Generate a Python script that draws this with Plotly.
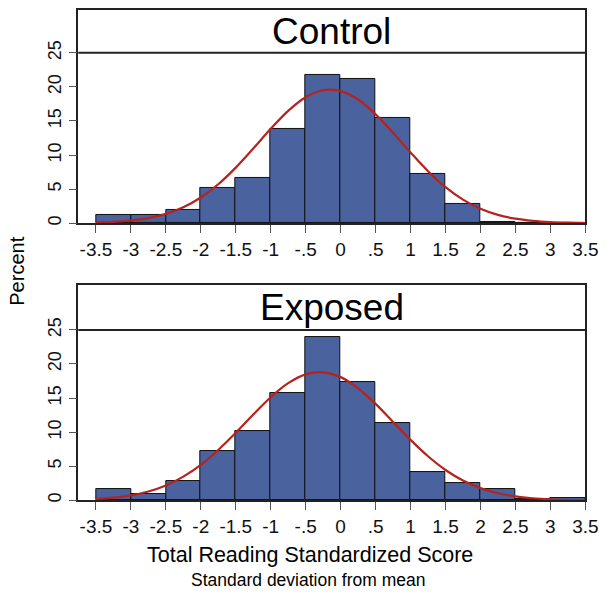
import plotly.graph_objects as go

# ---- data ----
bin_centers = [-3.25, -2.75, -2.25, -1.75, -1.25, -0.75, -0.25,
               0.25, 0.75, 1.25, 1.75, 2.25, 2.75, 3.25]
control_pct = [1.25, 1.25, 1.9, 5.2, 6.6, 13.8, 21.8,
               21.1, 15.5, 7.3, 2.85, 0.2, 0.1, 0.1]
exposed_pct = [1.65, 0.85, 2.85, 7.3, 10.2, 15.8, 23.9,
               17.4, 11.3, 4.1, 2.5, 1.65, 0.25, 0.4]

curve_x = [-3.5, -3.25, -3.0, -2.75, -2.5, -2.25, -2.0, -1.75, -1.5, -1.25,
           -1.0, -0.75, -0.5, -0.25, 0.0, 0.25, 0.5, 0.75, 1.0, 1.25,
           1.5, 1.75, 2.0, 2.25, 2.5, 2.75, 3.0, 3.25, 3.5]
control_curve = [0.09, 0.19, 0.40, 0.76, 1.38, 2.35, 3.78, 5.72, 8.16, 10.96,
                 13.85, 16.49, 18.48, 19.51, 19.39, 18.15, 16.0, 13.29, 10.39, 7.64,
                 5.29, 3.46, 2.12, 1.23, 0.67, 0.35, 0.17, 0.08, 0.03]
exposed_curve = [0.20, 0.39, 0.73, 1.30, 2.18, 3.47, 5.20, 7.38, 9.90, 12.58,
                 15.12, 17.18, 18.47, 18.78, 18.07, 16.43, 14.14, 11.50, 8.86, 6.46,
                 4.45, 2.90, 1.79, 1.04, 0.57, 0.30, 0.15, 0.07, 0.03]

x_tick_vals = [-3.5, -3, -2.5, -2, -1.5, -1, -0.5, 0, 0.5, 1, 1.5, 2, 2.5, 3, 3.5]
x_tick_text = ["-3.5", "-3", "-2.5", "-2", "-1.5", "-1", "-.5", "0", ".5",
               "1", "1.5", "2", "2.5", "3", "3.5"]
y_tick_vals = [0, 5, 10, 15, 20, 25]
panel_titles = ["Control", "Exposed"]

BAR_COLOR = "#4a629e"
CURVE_COLOR = "#b5231f"
FONT = "Liberation Sans, Arial, sans-serif"

W, H = 614, 594
fig = go.Figure()

panels = [
    (control_pct, control_curve, "x", "y"),
    (exposed_pct, exposed_curve, "x2", "y2"),
]
for pct, curve, xa, ya in panels:
    fig.add_trace(go.Bar(x=bin_centers, y=pct, width=0.5, xaxis=xa, yaxis=ya,
                         marker=dict(color=BAR_COLOR, line=dict(color="#111111", width=1)),
                         showlegend=False, hoverinfo="skip"))
    fig.add_trace(go.Scatter(x=curve_x, y=curve, mode="lines", xaxis=xa, yaxis=ya,
                             line=dict(color=CURVE_COLOR, width=2.2, shape="spline"),
                             showlegend=False, hoverinfo="skip"))

# pixel geometry
x_left, x_right = 80, 598
px_per_x = (598 - 98) / 7.0
x_range = [-3.5 - (98 - x_left) / px_per_x, 3.5]

def dom(top_px, bottom_px):
    return [1 - bottom_px / H, 1 - top_px / H]

top1, zero1 = 10, 224
top2, zero2 = 286, 502
ppu = (224 - 53) / 25.0
yr1 = [0, (zero1 - top1) / ppu]
yr2 = [0, (zero2 - top2) / ppu]

axis_common = dict(showline=True, linecolor="#222222", linewidth=1.5, mirror=True,
                   showgrid=False, zeroline=False, ticks="outside", ticklen=8,
                   tickcolor="#555555", tickwidth=1)
xfont = dict(family=FONT, size=19, color="#111111")
yfont = dict(family=FONT, size=18, color="#111111")

xdom = [x_left / W, x_right / W]
fig.update_layout(
    width=W, height=H, margin=dict(l=0, r=0, t=0, b=0),
    paper_bgcolor="white", plot_bgcolor="white", bargap=0,
    xaxis=dict(domain=xdom, range=x_range, tickvals=x_tick_vals, ticktext=x_tick_text,
               anchor="y", tickfont=xfont, **axis_common),
    yaxis=dict(domain=dom(top1, zero1), range=yr1, tickvals=y_tick_vals, tickangle=-90,
               anchor="x", tickfont=yfont, **axis_common),
    xaxis2=dict(domain=xdom, range=x_range, tickvals=x_tick_vals, ticktext=x_tick_text,
                anchor="y2", tickfont=xfont, **axis_common),
    yaxis2=dict(domain=dom(top2, zero2), range=yr2, tickvals=y_tick_vals, tickangle=-90,
                anchor="x2", tickfont=yfont, **axis_common),
)

# strip separator lines and titles
for (xa, ya, yr, title) in [("x", "y", yr1, panel_titles[0]), ("x2", "y2", yr2, panel_titles[1])]:
    fig.add_shape(type="line", xref=xa + " domain", yref=ya, x0=0, x1=1, y0=25, y1=25,
                  line=dict(color="#222222", width=2))
    fig.add_annotation(xref=xa + " domain", yref=ya, x=0.5, y=(25 + yr[1]) / 2,
                       text=title, showarrow=False,
                       font=dict(family=FONT, size=37, color="black"),
                       xanchor="center", yanchor="middle")

fig.add_annotation(xref="paper", yref="paper", x=17 / W, y=1 - 272 / H, text="Percent",
                   textangle=-90, showarrow=False, xanchor="center", yanchor="middle",
                   font=dict(family=FONT, size=20, color="black"))
fig.add_annotation(xref="paper", yref="paper", x=((x_left + x_right) / 2 - 22) / W,
                   y=1 - 557 / H, text="Total Reading Standardized Score",
                   showarrow=False, xanchor="center", yanchor="middle",
                   font=dict(family=FONT, size=21.5, color="black"))
fig.add_annotation(xref="paper", yref="paper", x=((x_left + x_right) / 2 - 24) / W,
                   y=1 - 582 / H, text="Standard deviation from mean",
                   showarrow=False, xanchor="center", yanchor="middle",
                   font=dict(family=FONT, size=17.5, color="black"))

fig.write_html("out.html")
